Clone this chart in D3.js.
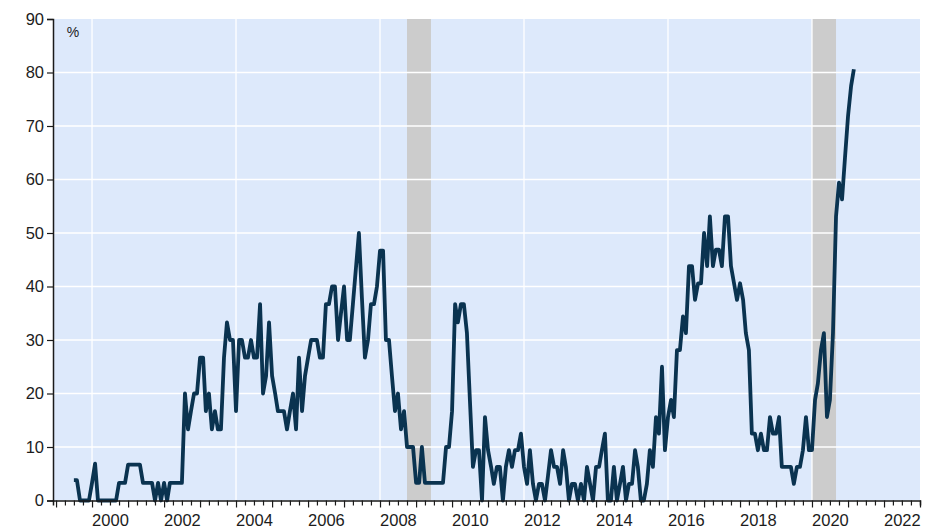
<!DOCTYPE html>
<html>
<head>
<meta charset="utf-8">
<script src="https://cdn.jsdelivr.net/npm/d3@7"></script>
<style>
  body { margin: 0; background: #fff; }
  svg text { font-family: "Liberation Sans", Arial, sans-serif; fill: #1c1c1c; }
</style>
</head>
<body>
<div id="chart"></div>
<script>
/* chart data */
var firstMonth = "1999-07";
// monthly share, %, from Jul 1999
var values = [
  3.8, 3.8, 0, 0, 0, 0, 3.3, 6.9, 0, 0,
  0, 0, 0, 0, 0, 3.3, 3.3, 3.3, 6.7, 6.7,
  6.7, 6.7, 6.7, 3.3, 3.3, 3.3, 3.3, 0, 3.3, 0,
  3.3, 0, 3.3, 3.3, 3.3, 3.3, 3.3, 20, 13.3, 16.7,
  20, 20, 26.7, 26.7, 16.7, 20, 13.3, 16.7, 13.3, 13.3,
  26.7, 33.3, 30, 30, 16.7, 30, 30, 26.7, 26.7, 30,
  26.7, 26.7, 36.7, 20, 23.3, 33.3, 23.3, 20, 16.7, 16.7,
  16.7, 13.3, 16.7, 20, 13.3, 26.7, 16.7, 23.3, 26.7, 30,
  30, 30, 26.7, 26.7, 36.7, 36.7, 40, 40, 30, 35,
  40, 30, 30, 36.7, 43.3, 50, 38, 26.7, 30, 36.7,
  36.7, 40, 46.7, 46.7, 30, 30, 23.3, 16.7, 20, 13.3,
  16.7, 10, 10, 10, 3.3, 3.3, 10, 3.3, 3.3, 3.3,
  3.3, 3.3, 3.3, 3.3, 10, 10, 16.7, 36.7, 33.3, 36.7,
  36.7, 31.3, 18.8, 6.3, 9.4, 9.4, 0, 15.6, 9.4, 6.3,
  3.1, 6.3, 6.3, 0, 6.3, 9.4, 6.3, 9.4, 9.4, 12.5,
  6.3, 3.1, 9.4, 3.1, 0, 3.1, 3.1, 0, 4.7, 9.4,
  6.3, 6.3, 3.1, 9.4, 6.3, 0, 3.1, 3.1, 0, 3.1,
  0, 6.3, 3.1, 0, 6.3, 6.3, 9.4, 12.5, 0, 0,
  6.3, 0, 3.1, 6.3, 0, 3.1, 3.1, 9.4, 6.3, 0,
  0, 3.1, 9.4, 6.3, 15.6, 12.5, 25, 9.4, 15.6, 18.8,
  15.6, 28.1, 28.1, 34.4, 31.3, 43.8, 43.8, 37.5, 40.6, 40.6,
  50, 43.8, 53.1, 43.8, 46.9, 46.9, 43.8, 53.1, 53.1, 43.8,
  40.6, 37.5, 40.6, 37.5, 31.3, 28.1, 12.5, 12.5, 9.4, 12.5,
  9.4, 9.4, 15.6, 12.5, 12.5, 15.6, 6.3, 6.3, 6.3, 6.3,
  3.1, 6.3, 6.3, 9.4, 15.6, 9.4, 9.4, 18.8, 21.9, 28.1,
  31.3, 15.6, 18.8, 31.3, 53.1, 59.4, 56.3, 64.1, 71.9, 77.5, 80.6
];
// shaded periods (first and last month)
var recessions = [["2008-10", "2009-05"], ["2020-01", "2020-08"]];
var yTicks = [0, 10, 20, 30, 40, 50, 60, 70, 80, 90];
var labelYears = [2000, 2002, 2004, 2006, 2008, 2010, 2012, 2014, 2016, 2018, 2020, 2022];
var gridYears = [2000, 2004, 2008, 2012, 2016, 2020];
var unitLabel = "%";

var chartW = 934, chartH = 529;
var plotLeft = 53, plotRight = 920, plotTop = 19, plotBottom = 500.5;

var parseMonth = d3.timeParse("%Y-%m");

var start = parseMonth(firstMonth);
var months = d3.timeMonth.range(start, d3.timeMonth.offset(start, values.length));
var series = values.map(function(v, i){ return {date: months[i], value: v}; });

var x = d3.scaleTime()
  .domain([new Date(1998, 11, 1), new Date(2023, 0, 1)])
  .range([plotLeft, plotRight]);
var y = d3.scaleLinear().domain([0, 90]).range([plotBottom, plotTop]);

var svg = d3.select("#chart").append("svg")
  .attr("width", chartW)
  .attr("height", chartH);

// plot background
svg.append("rect")
  .attr("x", plotLeft).attr("y", plotTop)
  .attr("width", plotRight - plotLeft).attr("height", plotBottom - plotTop)
  .style("fill", "#dde9fb");

// shaded bands
svg.selectAll("rect.band")
  .data(recessions)
  .enter()
  .append("rect")
  .attr("class", "band")
  .attr("x", function(d){ return x(parseMonth(d[0])); })
  .attr("width", function(d){
    return x(d3.timeMonth.offset(parseMonth(d[1]), 1)) - x(parseMonth(d[0]));
  })
  .attr("y", plotTop)
  .attr("height", plotBottom - plotTop)
  .style("fill", "#cccccc");

// grid lines
svg.selectAll("line.hgrid")
  .data(yTicks.slice(1, -1))
  .enter()
  .append("line")
  .attr("class", "hgrid")
  .attr("x1", plotLeft).attr("x2", plotRight)
  .attr("y1", function(d){ return y(d); })
  .attr("y2", function(d){ return y(d); })
  .attr("stroke", "#ffffff")
  .attr("stroke-width", 1.3);

svg.selectAll("line.vgrid")
  .data(gridYears)
  .enter()
  .append("line")
  .attr("class", "vgrid")
  .attr("x1", function(d){ return x(new Date(d, 0, 1)); })
  .attr("x2", function(d){ return x(new Date(d, 0, 1)); })
  .attr("y1", plotTop).attr("y2", plotBottom)
  .attr("stroke", "#ffffff")
  .attr("stroke-width", 1.3);

// the series
var line = d3.line()
  .x(function(d){ return x(d.date); })
  .y(function(d){ return y(d.value); });

svg.append("path")
  .datum(series)
  .attr("d", line)
  .attr("fill", "none")
  .attr("stroke", "#0a3350")
  .attr("stroke-width", 3.8)
  .attr("stroke-linejoin", "round");

// y axis
var yAxis = svg.append("g")
  .attr("transform", "translate(" + plotLeft + ",0)")
  .call(d3.axisLeft(y).tickValues(yTicks).tickSize(6).tickPadding(3).tickFormat(d3.format("d")));
yAxis.select(".domain").attr("stroke", "#1a1a1a").attr("stroke-width", 1.5);
yAxis.selectAll(".tick line").attr("stroke", "#1a1a1a").attr("stroke-width", 1.2);
yAxis.selectAll("text").style("font-size", "16.5px");

// x axis: quarterly ticks, longer ones at each year
var xAxis = svg.append("g")
  .attr("transform", "translate(0," + plotBottom + ")")
  .call(d3.axisBottom(x)
    .ticks(d3.timeMonth.every(3))
    .tickSizeOuter(0)
    .tickSize(5)
    .tickFormat(""));
xAxis.select(".domain").attr("stroke", "#1a1a1a").attr("stroke-width", 1.5);
xAxis.selectAll(".tick line")
  .attr("stroke", "#1a1a1a")
  .attr("stroke-width", 1.2)
  .attr("y2", function(d){ return d.getMonth() === 0 ? 7 : 5; });

// year labels sit in the middle of each year
var xLabels = svg.append("g")
  .attr("transform", "translate(0," + plotBottom + ")")
  .call(d3.axisBottom(x)
    .tickValues(labelYears.map(function(yr){ return new Date(yr, 6, 1); }))
    .tickSize(0)
    .tickPadding(14)
    .tickFormat(d3.timeFormat("%Y")));
xLabels.select(".domain").remove();
xLabels.selectAll("text").style("font-size", "16.5px");

// unit label
svg.append("text")
  .attr("x", 73)
  .attr("y", 37)
  .attr("text-anchor", "middle")
  .style("font-size", "14px")
  .text(unitLabel);
</script>
</body>
</html>
